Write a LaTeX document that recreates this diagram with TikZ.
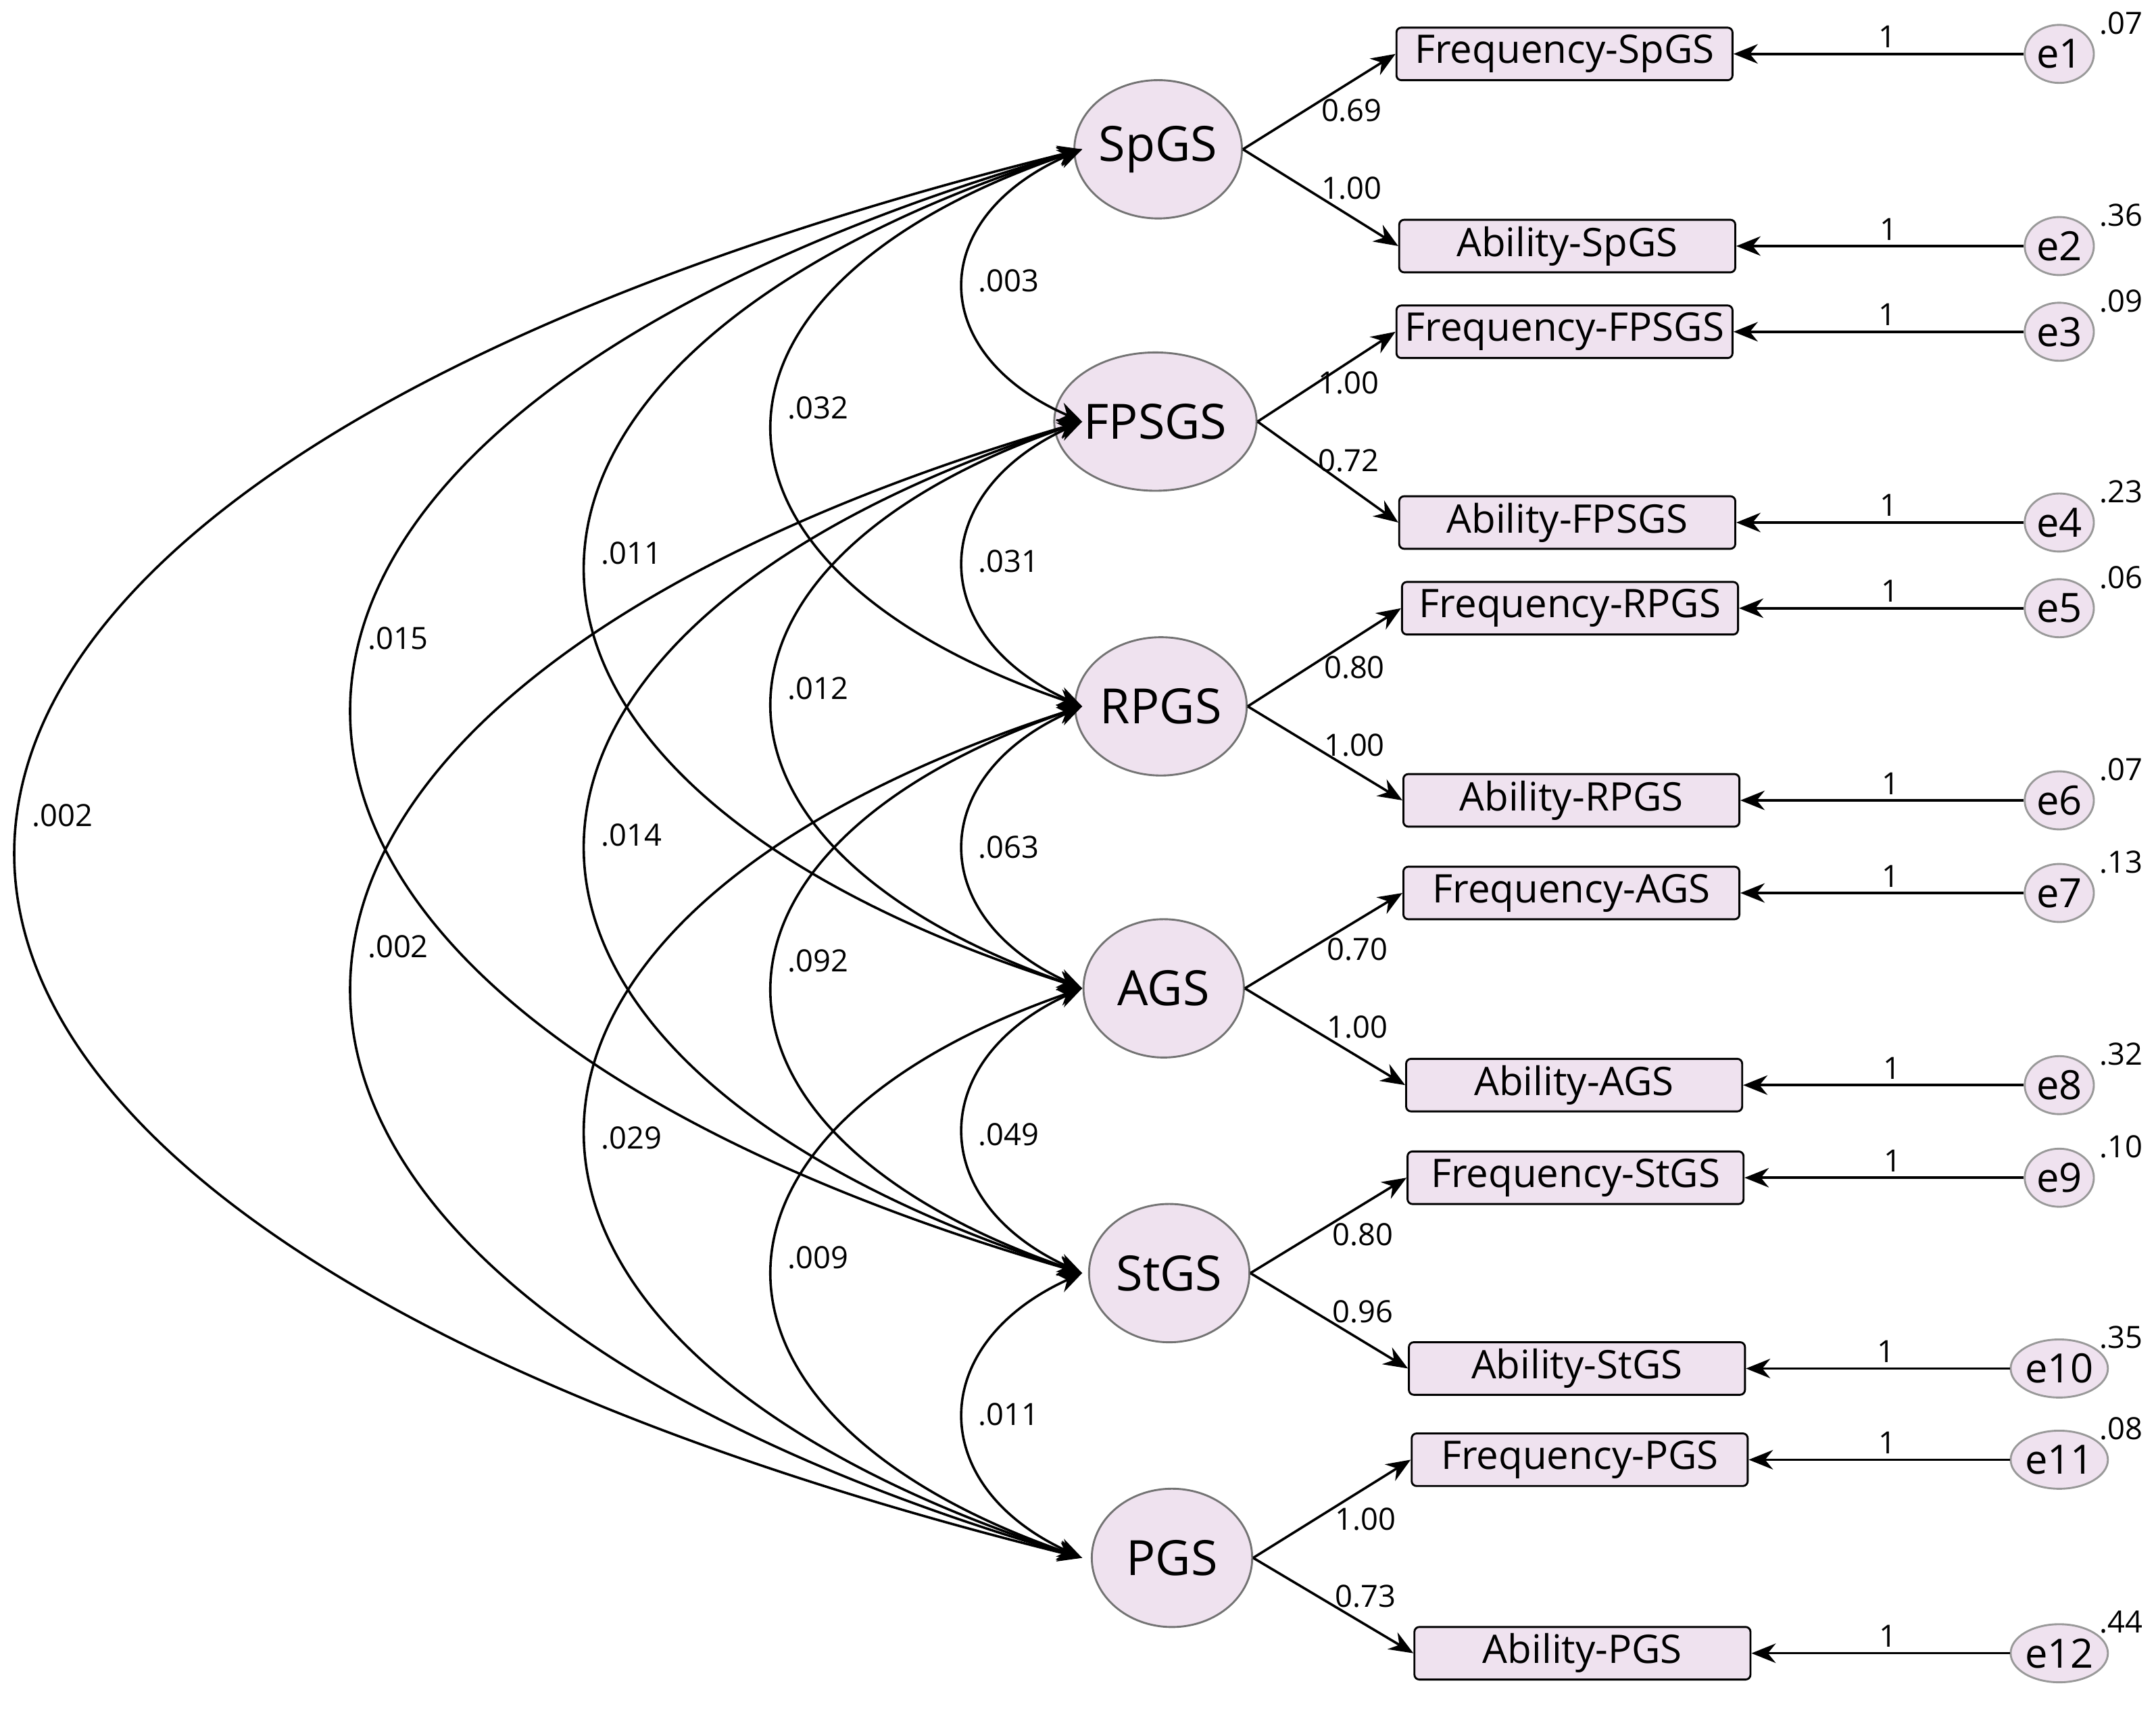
\documentclass[tikz,border=0pt]{standalone}
\usepackage{fontspec}
\setmainfont{Open Sans}
\usetikzlibrary{arrows.meta,shapes.geometric}
\definecolor{pk}{HTML}{EFE2EF}
\begin{document}
\begin{tikzpicture}[x=0.01cm,y=-0.01cm,
 lat/.style={ellipse,draw=black!55,fill=pk,minimum width=1.16cm,minimum height=1.0cm,inner sep=0pt,font=\fontsize{10}{12}\selectfont},
 obs/.style={rectangle,draw=black,fill=pk,rounded corners=1pt,minimum width=2.43cm,minimum height=0.38cm,inner sep=0pt,font=\fontsize{8.1}{10}\selectfont},
 err/.style={ellipse,draw=black!40,fill=pk,minimum width=0.5cm,minimum height=0.42cm,inner sep=0pt,font=\fontsize{8.3}{10}\selectfont},
 num/.style={font=\fontsize{6.3}{8}\selectfont,inner sep=1pt},
 arr/.style={-{Stealth[length=5pt,width=4pt]},line width=0.5pt},
 cov/.style={{Stealth[length=5pt,width=4pt]}-{Stealth[length=5pt,width=4pt]},line width=0.5pt}]
\useasboundingbox (0,0) rectangle (1560,1242);
\foreach \n/\x/\y in {SpGS/838/108,FPSGS/836/305,RPGS/840/511,AGS/842/715,StGS/846/921,PGS/848/1127}
  \node[lat] (\n) at (\x,\y) {\n};
\foreach \n/\y in {SpGS/108,FPSGS/305,RPGS/511,AGS/715,StGS/921,PGS/1127}
  \coordinate (c\n) at (783,\y);
\foreach \i/\t/\x/\y in {1/Frequency-SpGS/1132/39,2/Ability-SpGS/1134/178,3/Frequency-FPSGS/1132/240,4/Ability-FPSGS/1134/378,5/Frequency-RPGS/1136/440,6/Ability-RPGS/1137/579,7/Frequency-AGS/1137/646,8/Ability-AGS/1139/785,9/Frequency-StGS/1140/852,10/Ability-StGS/1141/990,11/Frequency-PGS/1143/1056,12/Ability-PGS/1145/1196}
  \node[obs] (o\i) at (\x,\y) {\t};
\foreach \i/\y/\v in {1/39/.07,2/178/.36,3/240/.09,4/378/.23,5/440/.06,6/579/.07,7/646/.13,8/785/.32,9/852/.10,10/990/.35,11/1056/.08,12/1196/.44}{
  \node[err] (e\i) at (1490,\y) {e\i};
  \node[num,anchor=south west] (v\i) at (1515,\y-10) {\v};
  \draw[arr] (e\i) -- node[num,above,pos=0.47] {1} (o\i);
}
\foreach \n/\a/\b/\la/\lb in {SpGS/1/2/0.69/1.00,FPSGS/3/4/1.00/0.72,RPGS/5/6/0.80/1.00,AGS/7/8/0.70/1.00,StGS/9/10/0.80/0.96,PGS/11/12/1.00/0.73}{
  \draw[arr] (\n.east) -- (o\a.west);
  \draw[arr] (\n.east) -- (o\b.west);
  \path (\n.center) ++(140,-28) node[num] {\la};
  \path (\n.center) ++(140,28) node[num] {\lb};
}
\foreach \p/\q/\lx/\ly/\l in {
 SpGS/FPSGS/730/203/.003, SpGS/RPGS/592/295/.032, SpGS/AGS/457/400/.011, SpGS/StGS/288/462/.015, SpGS/PGS/45/590/.002,
 FPSGS/RPGS/730/406/.031, FPSGS/AGS/592/498/.012, FPSGS/StGS/457/604/.014, FPSGS/PGS/288/685/.002,
 RPGS/AGS/730/613/.063, RPGS/StGS/592/695/.092, RPGS/PGS/457/823/.029,
 AGS/StGS/730/821/.049, AGS/PGS/592/910/.009,
 StGS/PGS/730/1023/.011}{
  \path (c\p) -- (c\q) coordinate[pos=0.25] (m1) coordinate[pos=0.75] (m2);
  \pgfmathsetmacro{\cx}{((\lx-32)-0.25*783)/0.75}
  \draw[cov] (c\p) .. controls (\cx,0 |- m1) and (\cx,0 |- m2) .. (c\q);
  \node[num,fill=white,inner sep=0.5pt] at (\lx,\ly) {\l};
}
\end{tikzpicture}
\end{document}
